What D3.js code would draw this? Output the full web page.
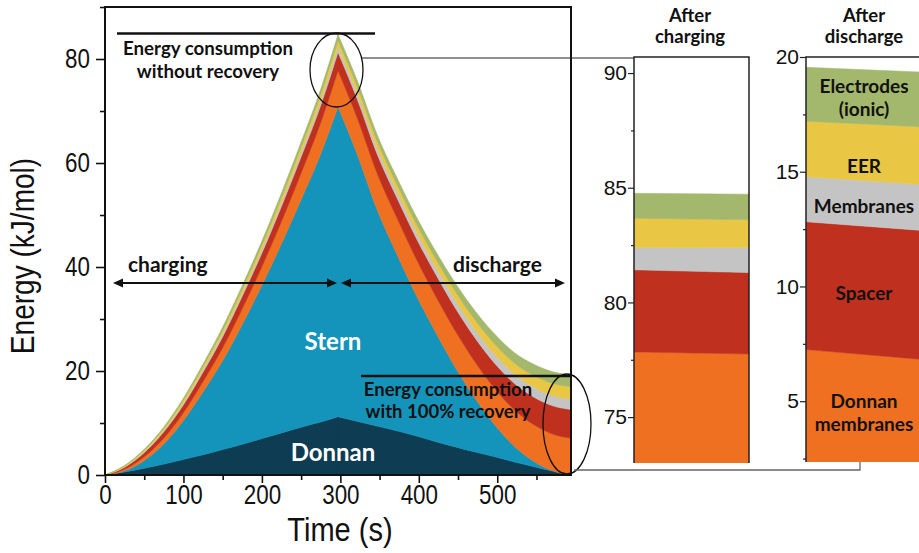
<!DOCTYPE html>
<html>
<head>
<meta charset="utf-8">
<script src="https://cdn.jsdelivr.net/npm/d3@7"></script>
<style>
  html, body { margin: 0; padding: 0; background: #fff; }
  svg { display: block; }
  .num { font-family: "Liberation Sans", Arial, sans-serif; fill: #111; }
  .note { font-family: Lato, "Open Sans", sans-serif; font-weight: 700; fill: #111; }
</style>
</head>
<body>
<svg id="chart" width="919" height="553"></svg>
<script>
// ---- Energy stack over one charge/discharge cycle (kJ/mol per layer) ----
const times = [0, 25, 50, 75, 100, 125, 150, 175, 200, 225, 250, 275, 297,
               322, 347, 372, 397, 422, 447, 472, 497, 522, 547, 572, 594];

const donnan          = [0, 0.6, 1.3, 2.1, 3.0, 3.9, 4.9, 5.9, 7.0, 8.1, 9.2, 10.2, 11.2,
                         10.3, 9.4, 8.5, 7.5, 6.4, 5.4, 4.4, 3.5, 2.5, 1.6, 0.7, 0];
const stern           = [0, 0.2, 1.5, 3.9, 7.5, 12.1, 17.1, 23.1, 29.5, 36.4, 43.8, 51.6, 59.6,
                         51.2, 41.6, 34.0, 27.0, 20.9, 15.2, 10.3, 6.1, 3.0, 1.0, 0.05, 0];
const donnanMembranes = [0, 0.3, 0.7, 1.1, 1.5, 2.0, 2.5, 3.0, 3.6, 4.3, 5.1, 6.0, 7.0,
                         7.0, 7.0, 7.0, 7.0, 7.0, 7.0, 7.0, 7.0, 7.0, 7.05, 7.05, 7.1];
const spacer          = [0, 0.4, 0.8, 1.2, 1.5, 1.8, 2.1, 2.4, 2.6, 2.9, 3.1, 3.3, 3.5,
                         3.6, 3.7, 3.85, 4.0, 4.2, 4.4, 4.6, 4.85, 5.1, 5.3, 5.45, 5.5];
const membranes       = [0, 0.1, 0.2, 0.3, 0.4, 0.5, 0.6, 0.6, 0.7, 0.8, 0.9, 1.0, 1.1,
                         1.15, 1.2, 1.25, 1.3, 1.4, 1.5, 1.6, 1.7, 1.8, 1.9, 1.95, 2.0];
const eer             = [0, 0.15, 0.25, 0.35, 0.5, 0.55, 0.65, 0.75, 0.8, 0.9, 1.0, 1.1, 1.2,
                         1.25, 1.3, 1.35, 1.45, 1.55, 1.7, 1.85, 2.0, 2.1, 2.25, 2.35, 2.4];
const electrodes      = [0, 0.1, 0.2, 0.3, 0.4, 0.5, 0.6, 0.7, 0.8, 0.85, 0.95, 1.0, 1.1,
                         1.15, 1.2, 1.25, 1.35, 1.45, 1.6, 1.75, 1.9, 2.0, 2.15, 2.25, 2.3];

// ---- Zoomed stacks: left / right edge of each detail column ----
const edges = [0, 1];
const chargedDonnan          = [11.2, 11.2];
const chargedStern           = [59.6, 59.6];
const chargedDonnanMembranes = [7.04, 6.95];
const chargedSpacer          = [3.58, 3.55];
const chargedMembranes       = [0.97, 1.1];
const chargedEer             = [1.28, 1.2];
const chargedElectrodes      = [1.09, 1.12];

const dischargedDonnan          = [0, 0];
const dischargedStern           = [0, 0];
const dischargedDonnanMembranes = [7.25, 6.83];
const dischargedSpacer          = [5.57, 5.62];
const dischargedMembranes       = [1.96, 2.0];
const dischargedEer             = [2.42, 2.51];
const dischargedElectrodes      = [2.35, 2.39];

// ---- Tick values ----
const timeTicks = [0, 100, 200, 300, 400, 500];
const timeMinor = [50, 150, 250, 350, 450, 550];
const energyTicks = [0, 20, 40, 60, 80];
const energyMinor = [10, 30, 50, 70, 90];
const chargedTicks = [75, 80, 85, 90];
const chargedMinor = [77.5, 82.5, 87.5];
const dischargedTicks = [5, 10, 15, 20];
const dischargedMinor = [2.5, 7.5, 12.5, 17.5];

const layerKeys = ["donnan", "stern", "donnanMembranes", "spacer", "membranes", "eer", "electrodes"];
const layerColors = ["#0e3c53", "#1594bb", "#f07022", "#c0301f", "#c4c4c4", "#e9c745", "#a3b86c"];

const svg = d3.select("#chart");
const defs = svg.append("defs");

function buildRows(xs, cols) {
  return xs.map((v, i) => {
    const r = { t: v };
    layerKeys.forEach((k, j) => r[k] = cols[j][i]);
    return r;
  });
}
const stack = d3.stack().keys(layerKeys);

// ================= Main chart =================
const x = d3.scaleLinear().domain([0, 594]).range([105, 571]);
const y = d3.scaleLinear().domain([0, 90]).range([475, 7]);

const rows = buildRows(times, [donnan, stern, donnanMembranes, spacer, membranes, eer, electrodes]);
const series = stack(rows);
const totals = rows.map(r => d3.sum(layerKeys, k => r[k]));
const peak = d3.maxIndex(totals);

defs.append("clipPath").attr("id", "clipMain")
  .append("rect").attr("x", 105).attr("y", 7).attr("width", 466).attr("height", 468);

const area = d3.area()
  .x(d => x(d.data.t))
  .y0(d => y(d[0]))
  .y1(d => y(d[1]))
  .curve(d3.curveMonotoneX);

const gMain = svg.append("g").attr("clip-path", "url(#clipMain)");
series.forEach((s, i) => {
  // charging and discharge branches are each monotone; drawn separately to keep the apex sharp
  [s.slice(0, peak + 1), s.slice(peak)].forEach(part => {
    gMain.append("path")
      .attr("d", area(part))
      .attr("fill", layerColors[i])
      .attr("stroke", layerColors[i])
      .attr("stroke-width", 0.6);
  });
});

// axes
const condensed = 0.8;
function styleAxis(g) {
  g.select(".domain").remove();
  g.selectAll(".tick line").attr("stroke", "#111").attr("stroke-width", 1.6);
}
const yMajor = svg.append("g").attr("transform", "translate(105,0)")
  .call(d3.axisLeft(y).tickValues(energyTicks).tickSize(9).tickFormat(d3.format("d")));
styleAxis(yMajor);
yMajor.selectAll("text").attr("class", "num").attr("font-size", 28)
  .attr("x", -15 / condensed).attr("transform", `scale(${condensed},1)`);
const yMinor = svg.append("g").attr("transform", "translate(105,0)")
  .call(d3.axisLeft(y).tickValues(energyMinor).tickSize(5).tickFormat(""));
styleAxis(yMinor);

const xMajor = svg.append("g").attr("transform", "translate(0,475)")
  .call(d3.axisBottom(x).tickValues(timeTicks).tickSize(8).tickFormat(d3.format("d")));
styleAxis(xMajor);
xMajor.selectAll("text").attr("class", "num").attr("font-size", 28)
  .attr("y", 9).attr("transform", `scale(${condensed},1)`);
const xMinor = svg.append("g").attr("transform", "translate(0,475)")
  .call(d3.axisBottom(x).tickValues(timeMinor).tickSize(5).tickFormat(""));
styleAxis(xMinor);

// frame
svg.append("path")
  .attr("d", `M105,475V7H571V475H105`)
  .attr("fill", "none").attr("stroke", "#111").attr("stroke-width", 2);

// axis titles
svg.append("text").attr("class", "num").attr("font-size", 33)
  .attr("text-anchor", "middle")
  .attr("transform", `translate(34,256) rotate(-90) scale(0.85,1)`)
  .text("Energy (kJ/mol)");
svg.append("text").attr("class", "num").attr("font-size", 33)
  .attr("text-anchor", "middle")
  .attr("transform", `translate(340,541) scale(0.88,1)`)
  .text("Time (s)");

// in-plot labels
svg.append("text").attr("class", "note").attr("font-size", 24)
  .style("fill", "#fff").attr("x", 333).attr("y", 350).attr("text-anchor", "middle").text("Stern");
svg.append("text").attr("class", "note").attr("font-size", 24)
  .style("fill", "#fff").attr("x", 333).attr("y", 461).attr("text-anchor", "middle").text("Donnan");

function note(lines, cx, y0, lh, size) {
  lines.forEach((t, i) => svg.append("text").attr("class", "note")
    .attr("font-size", size).attr("x", cx).attr("y", y0 + i * lh)
    .attr("text-anchor", "middle").text(t));
}
note(["Energy consumption", "without recovery"], 208, 55, 23, 18.7);
svg.append("line").attr("x1", 117).attr("x2", 375).attr("y1", 33.5).attr("y2", 33.5)
  .attr("stroke", "#111").attr("stroke-width", 2.5);

note(["Energy consumption", "with 100% recovery"], 448, 396, 22, 18.5);
svg.append("line").attr("x1", 361).attr("x2", 571).attr("y1", 376).attr("y2", 376)
  .attr("stroke", "#111").attr("stroke-width", 2.5);

svg.append("text").attr("class", "note").attr("font-size", 21)
  .attr("x", 128).attr("y", 272).text("charging");
svg.append("text").attr("class", "note").attr("font-size", 21)
  .attr("x", 453).attr("y", 272).text("discharge");

function doubleArrow(x1, x2, yy) {
  const g = svg.append("g");
  g.append("line").attr("x1", x1 + 4).attr("x2", x2 - 4).attr("y1", yy).attr("y2", yy)
    .attr("stroke", "#111").attr("stroke-width", 2);
  g.append("path").attr("d", `M${x1},${yy}l10,-4.5v9z`).attr("fill", "#111");
  g.append("path").attr("d", `M${x2},${yy}l-10,-4.5v9z`).attr("fill", "#111");
}
doubleArrow(113, 337, 283);
doubleArrow(341, 565, 283);

// highlight ellipses and connectors
svg.append("ellipse").attr("cx", 336.5).attr("cy", 70).attr("rx", 26.5).attr("ry", 37)
  .attr("fill", "none").attr("stroke", "#111").attr("stroke-width", 1.3);
svg.append("ellipse").attr("cx", 567).attr("cy", 424).attr("rx", 24).attr("ry", 50)
  .attr("fill", "none").attr("stroke", "#111").attr("stroke-width", 1.3);
svg.append("line").attr("x1", 362).attr("x2", 634).attr("y1", 58).attr("y2", 58)
  .attr("stroke", "#222").attr("stroke-width", 1.1);
svg.append("path").attr("d", "M574,470H860V462")
  .attr("fill", "none").attr("stroke", "#666").attr("stroke-width", 1.3);

// ================= Detail columns =================
function detailPanel(opts) {
  const px = d3.scaleLinear().domain([0, 1]).range([opts.x0, opts.x1]);
  const py = d3.scaleLinear().domain(opts.domain).range([opts.bottom, opts.top]);
  const pr = buildRows(edges, opts.cols);
  const ps = stack(pr);
  const id = opts.id;
  defs.append("clipPath").attr("id", id)
    .append("rect").attr("x", opts.x0).attr("y", opts.top)
    .attr("width", opts.x1 - opts.x0).attr("height", opts.bottom - opts.top);
  const pArea = d3.area().x(d => px(d.data.t)).y0(d => py(d[0])).y1(d => py(d[1]));
  const g = svg.append("g").attr("clip-path", `url(#${id})`);
  ps.forEach((s, i) => g.append("path").attr("d", pArea(s))
    .attr("fill", layerColors[i]).attr("stroke", layerColors[i]).attr("stroke-width", 0.5));

  const a1 = svg.append("g").attr("transform", `translate(${opts.x0},0)`)
    .call(d3.axisLeft(py).tickValues(opts.ticks).tickSize(6).tickPadding(1).tickFormat(d3.format("d")));
  a1.select(".domain").remove();
  a1.selectAll(".tick line").attr("stroke", "#222").attr("stroke-width", 1.2);
  a1.selectAll("text").attr("class", "num").attr("font-size", 21);
  const a2 = svg.append("g").attr("transform", `translate(${opts.x0},0)`)
    .call(d3.axisLeft(py).tickValues(opts.minor).tickSize(3).tickFormat(""));
  a2.select(".domain").remove();
  a2.selectAll(".tick line").attr("stroke", "#222").attr("stroke-width", 1.2);

  svg.append("path").attr("d", opts.frame)
    .attr("fill", "none").attr("stroke", "#222").attr("stroke-width", 1.5);

  opts.title.forEach((t, i) => svg.append("text").attr("class", "note")
    .attr("font-size", 18.5).attr("x", opts.titleX).attr("y", 22 + i * 21)
    .attr("text-anchor", "middle").text(t));
  return py;
}

detailPanel({
  id: "clipCharged", x0: 634, x1: 749, top: 57, bottom: 463, domain: [73.0, 90.7],
  cols: [chargedDonnan, chargedStern, chargedDonnanMembranes, chargedSpacer,
         chargedMembranes, chargedEer, chargedElectrodes],
  ticks: chargedTicks, minor: chargedMinor,
  frame: "M634,463V57H749V463",
  title: ["After", "charging"], titleX: 690
});

detailPanel({
  id: "clipDischarged", x0: 806, x1: 919, top: 57, bottom: 462, domain: [2.35, 20],
  cols: [dischargedDonnan, dischargedStern, dischargedDonnanMembranes, dischargedSpacer,
         dischargedMembranes, dischargedEer, dischargedElectrodes],
  ticks: dischargedTicks, minor: dischargedMinor,
  frame: "M806,462V57H919",
  title: ["After", "discharge"], titleX: 864
});

// layer names in the discharge column
const layerNotes = [
  ["Electrodes", 93], ["(ionic)", 116], ["EER", 173], ["Membranes", 213],
  ["Spacer", 300], ["Donnan", 408], ["membranes", 431]
];
layerNotes.forEach(([t, yy]) => svg.append("text").attr("class", "note")
  .attr("font-size", 19).attr("x", 864).attr("y", yy)
  .attr("text-anchor", "middle").text(t));
</script>
</body>
</html>
